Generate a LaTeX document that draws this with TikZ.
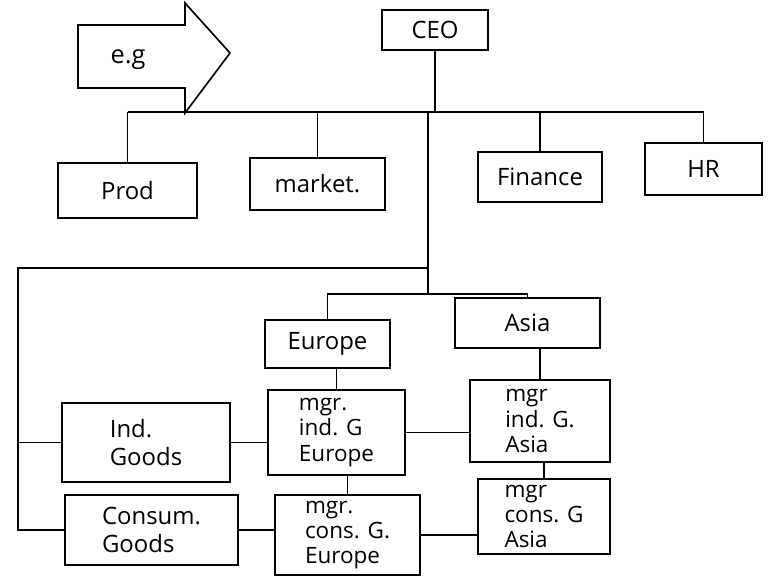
\documentclass[tikz,border=0pt]{standalone}
\usepackage{fontspec}
\setmainfont{Open Sans}
\usetikzlibrary{positioning}

\begin{document}
\begin{tikzpicture}[
  x=0.025cm, y=-0.025cm,
  box/.style={draw, line width=1.2pt, font=\fontsize{16}{18}\selectfont, align=left, inner sep=4pt},
  big/.style={font=\fontsize{17}{20}\selectfont},
  ln/.style={line width=1.2pt}
]
\useasboundingbox (0,0) rectangle (780,584);

% the e.g arrow
\draw[ln] (78,25) -- (185,25) -- (185,3) -- (230,53) -- (185,113) -- (185,88) -- (78,88) -- cycle;
\node[font=\fontsize{18}{20}\selectfont] (eg) at (128,60) {e.g};

% top level
\node[box, big, minimum width=2.65cm, minimum height=1.0cm] (ceo) at (435,30) {CEO};
\node[box, big, minimum width=3.48cm, minimum height=1.38cm] (prod) at (127.5,190.5) {Prod};
\node[box, big, minimum width=3.38cm, minimum height=1.3cm] (market) at (317.5,184) {market.};
\node[box, big, minimum width=3.1cm, minimum height=1.25cm] (finance) at (540,177) {Finance};
\node[box, big, minimum width=2.93cm, minimum height=1.3cm] (hr) at (703.5,169) {HR};

% regions
\node[box, big, minimum width=3.13cm, minimum height=1.2cm] (europe) at (327.5,344) {Europe};
\node[box, big, minimum width=3.63cm, minimum height=1.25cm] (asia) at (527.5,323) {Asia};

% product groups and managers
\node[box, big, minimum width=4.2cm, minimum height=1.98cm] (ind) at (146,442.5) {Ind.\\Goods};
\node[box, big, minimum width=4.33cm, minimum height=1.75cm] (cons) at (151.5,530) {Consum.\\Goods};
\node[box, minimum width=3.43cm, minimum height=2.13cm] (mie) at (336.5,432.5) {mgr.\\ind. G\\Europe};
\node[box, minimum width=3.5cm, minimum height=2.05cm] (mia) at (540,421) {mgr\\ind. G.\\Asia};
\node[box, minimum width=3.63cm, minimum height=2.0cm] (mce) at (347.5,535) {mgr.\\cons. G.\\Europe};
\node[box, minimum width=3.3cm, minimum height=1.68cm] (mca) at (544,516.5) {mgr\\cons. G\\Asia};

% bus lines
\coordinate (busL) at (127.5,112);
\coordinate (busR) at (703.5,112);
\coordinate (busM) at (428,112);
\coordinate (split) at (428,268);
\coordinate (reg) at (428,294);
\coordinate (lft) at (18,268);

\draw[ln] (ceo.south) -- (ceo.south |- busL);
\draw[ln] (busL) -- (busR);
\foreach \b in {prod, market, finance, hr}
  \draw[ln] (\b.north) -- (\b.north |- busL);

\draw[ln] (busM) -- (reg);
\draw[ln] (europe.north) |- (reg) -| (asia.north);
\draw[ln] (split) -- (lft) -- (lft |- cons.west) -- (cons.west);
\draw[ln] (lft |- ind.west) -- (ind.west);

\foreach \a/\b in {ind/mie, cons/mce, mie/mia, mce/mca}
  \draw[ln] (\a.east) -- (\a.east -| \b.west);
\foreach \a/\b in {europe/mie, asia/mia, mie/mce, mia/mca}
  \draw[ln] (\b.north) -- (\b.north |- \a.south);
\end{tikzpicture}
\end{document}
